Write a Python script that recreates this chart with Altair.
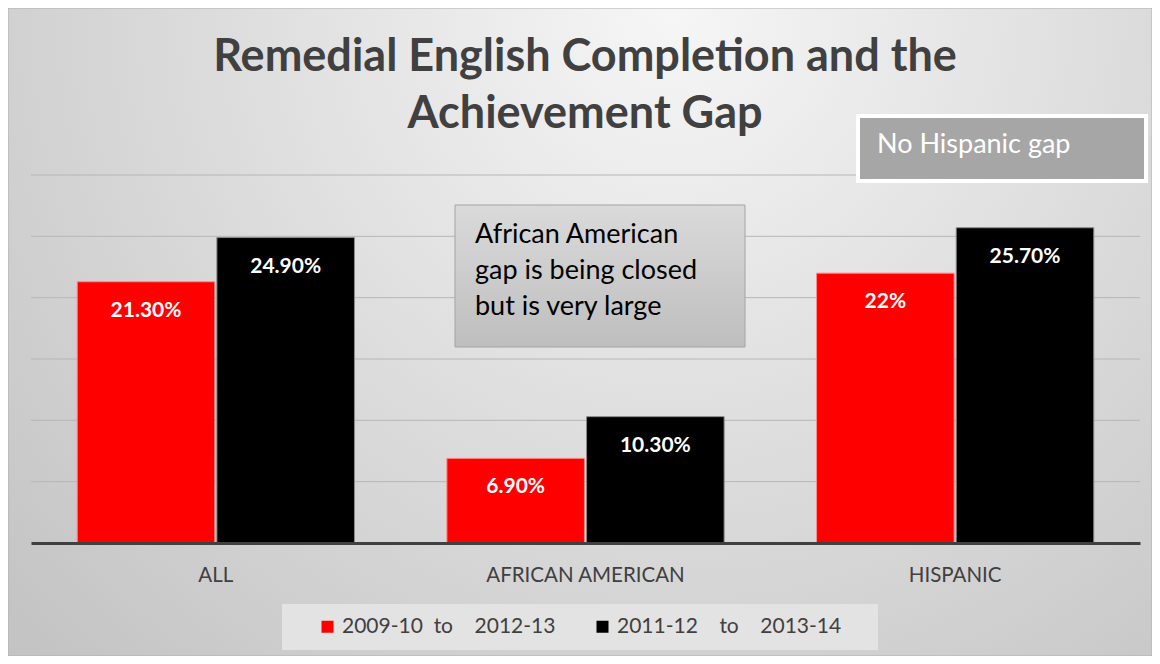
import altair as alt
import pandas as pd

# ---- data ----
categories = ["ALL", "AFRICAN AMERICAN", "HISPANIC"]
series = [
    "2009-10\u00a0\u00a0to\u00a0\u00a0\u00a0\u00a02012-13",
    "2011-12\u00a0\u00a0\u00a0\u00a0to\u00a0\u00a0\u00a0\u00a02013-14",
]
values_0910 = [21.3, 6.9, 22.0]
values_1112 = [24.9, 10.3, 25.7]
labels_0910 = ["21.30%", "6.90%", "22%"]
labels_1112 = ["24.90%", "10.30%", "25.70%"]
grid_ticks = [5, 10, 15, 20, 25, 30]
title_lines = ["Remedial English Completion and the", "Achievement Gap"]
note_aa = ["African American", "gap is being closed", "but is very large"]
note_hisp = "No Hispanic gap"

rows = []
for i, c in enumerate(categories):
    rows.append({"category": c, "series": series[0], "value": values_0910[i], "label": labels_0910[i]})
    rows.append({"category": c, "series": series[1], "value": values_1112[i], "label": labels_1112[i]})
df = pd.DataFrame(rows)
grid_df = pd.DataFrame({"value": grid_ticks})
one = pd.DataFrame({"k": [0]})

FONT = "Lato"
DARK = "#404040"

W, H = 1109, 368
PL, PT, PR, PB = 23, 167, 12, 113

x_enc = alt.X("category:N", sort=categories, title=None,
              scale=alt.Scale(paddingInner=0.25, paddingOuter=0.125),
              axis=alt.Axis(labelFontSize=20.5, labelColor=DARK, labelFont=FONT,
                            labelPadding=22, labelLimit=400, ticks=False, domainColor=DARK,
                            domainWidth=3, labelAngle=0, grid=False, zindex=1))
xoff_enc = alt.XOffset("series:N", sort=series, scale=alt.Scale(paddingInner=0.015))
y_scale = alt.Scale(domain=[0, 30], nice=False)

# background slide gradient
bg = alt.Chart(one).mark_rect(
    color=alt.RadialGradient(
        gradient="radial",
        stops=[alt.GradientStop(offset=0, color="#f6f6f6"),
               alt.GradientStop(offset=1, color="#c4c4c4")],
        x1=0.58, y1=0.22, r1=0, x2=0.58, y2=0.22, r2=0.78),
    stroke="#b0b0b0", strokeWidth=1,
).encode(x=alt.value(-PL), x2=alt.value(W + PR), y=alt.value(-PT), y2=alt.value(H + PB))

# horizontal gridlines (value axis)
grid = alt.Chart(grid_df).mark_rule(color="#b6b6b6", strokeWidth=1).encode(
    y=alt.Y("value:Q", scale=y_scale, axis=None),
    x=alt.value(0), x2=alt.value(W))

# legend frame
legend_box = alt.Chart(one).mark_rect(color="#e3e3e3").encode(
    x=alt.value(251), x2=alt.value(847), y=alt.value(429), y2=alt.value(475))

bars = alt.Chart(df).mark_bar(strokeWidth=1).encode(
    x=x_enc,
    xOffset=xoff_enc,
    y=alt.Y("value:Q", scale=y_scale, axis=None),
    color=alt.Color("series:N", sort=series,
                    scale=alt.Scale(domain=series, range=["#ff0000", "#000000"]),
                    legend=alt.Legend(orient="none", legendX=286, legendY=441,
                                      direction="horizontal", title=None,
                                      symbolType="square", symbolSize=144,
                                      symbolStrokeWidth=0,
                                      labelFontSize=21, labelColor=DARK, labelFont=FONT,
                                      labelLimit=400, columnPadding=36, labelOffset=4)),
    stroke=alt.Stroke("series:N", sort=series,
                      scale=alt.Scale(domain=series, range=["#ff8a8a", "#8a8a8a"]),
                      legend=None),
)

bar_labels = alt.Chart(df).mark_text(
    color="white", font=FONT, fontWeight="bold", fontSize=21,
    baseline="alphabetic", dy=35,
).encode(x=alt.X("category:N", sort=categories), xOffset=alt.XOffset("series:N", sort=series),
         y=alt.Y("value:Q", scale=y_scale), text="label:N")

# annotation: African American
aa_box = alt.Chart(one).mark_rect(
    color=alt.LinearGradient(gradient="linear",
                             stops=[alt.GradientStop(offset=0, color="#dadada"),
                                    alt.GradientStop(offset=1, color="#bebebe")],
                             x1=0, y1=0, x2=0, y2=1),
    stroke="#a4a4a4", strokeWidth=1,
).encode(x=alt.value(424), x2=alt.value(714), y=alt.value(30), y2=alt.value(172))
aa_text = alt.Chart(one).mark_text(
    text=note_aa, align="left", baseline="alphabetic", font=FONT, fontSize=27,
    lineHeight=36, color="#000000",
).encode(x=alt.value(444), y=alt.value(68))

# annotation: Hispanic
h_box = alt.Chart(one).mark_rect(color="#a6a6a6", stroke="white", strokeWidth=4).encode(
    x=alt.value(827), x2=alt.value(1115), y=alt.value(-59), y2=alt.value(6))
h_text = alt.Chart(one).mark_text(
    text=note_hisp, align="left", baseline="alphabetic", font=FONT, fontSize=27, color="white",
).encode(x=alt.value(846), y=alt.value(-22))

# title
title = alt.Chart(one).mark_text(
    text=title_lines, align="center", baseline="alphabetic", font=FONT, fontWeight="bold",
    fontSize=45, lineHeight=57, color=DARK,
).encode(x=alt.value(554), y=alt.value(-104))

chart = alt.layer(
    bg, grid, legend_box, bars, bar_labels, aa_box, aa_text, h_box, h_text, title
).properties(
    width=W, height=H,
    autosize=alt.AutoSizeParams(type="none"),
    padding={"left": PL, "top": PT, "right": PR, "bottom": PB},
    background="#dcdcdc",
).configure_view(stroke=None)

chart.save("out.html", embed_options={"renderer": "svg", "actions": False})
